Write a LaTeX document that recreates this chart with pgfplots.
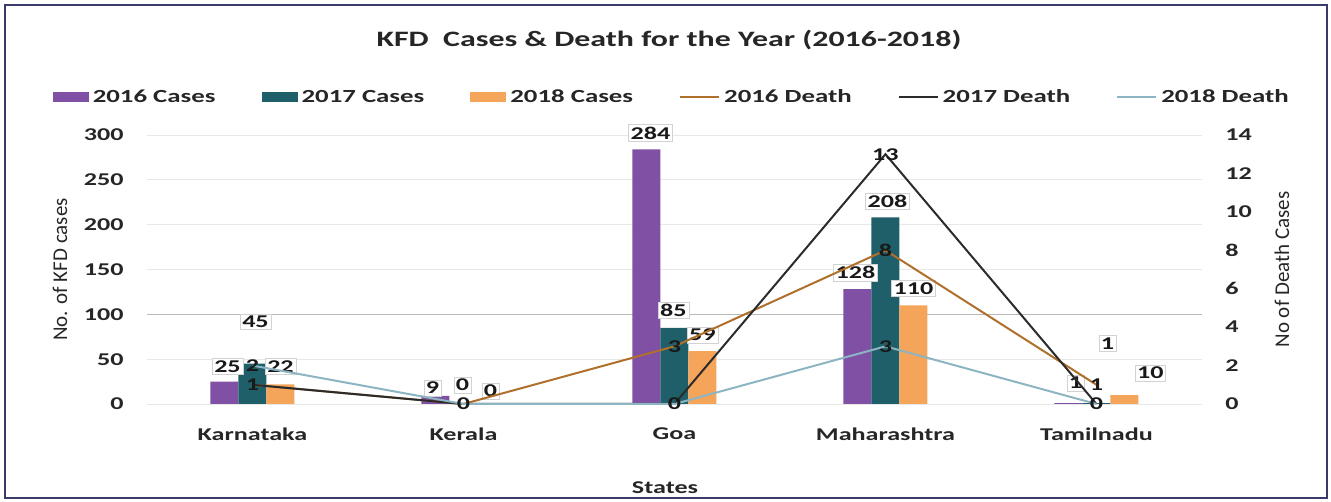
\documentclass[border=0pt]{standalone}
\usepackage{fontspec}
\setmainfont{Carlito}[FakeStretch=1.45]
\newfontfamily\plainfont{Carlito}
\usepackage{pgfplots}
\usepackage{pgfplotstable}
\pgfplotsset{compat=1.18}
\definecolor{c16}{HTML}{8050A5}
\definecolor{c17}{HTML}{1E5F69}
\definecolor{c18}{HTML}{F5A55A}
\definecolor{d16}{HTML}{B0702C}
\definecolor{d17}{HTML}{2B2B2B}
\definecolor{d18}{HTML}{8DB4C2}
\definecolor{framec}{HTML}{3B3B6B}
\pgfplotsset{
  barleg/.style={legend image code/.code={\fill[##1] (0bp,-5bp) rectangle (36bp,5bp);}},
  lineleg/.style={legend image code/.code={\draw[##1] (0bp,0bp) -- (39bp,0bp);}},
  /pgf/number format/assume math mode=true,
}
% cases: x, value, label x-offset, label y-offset (bp)
\pgfplotstableread{
x y dx dy
0 25 3 7
1 9 -3 0
2 284 4 8
3 128 -2 8
4 1 7 12
}\tA
\pgfplotstableread{
x y dx dy
0 45 3 34
1 0 -1 11
2 85 -1 9
3 208 2 8
4 1 11 52
}\tB
\pgfplotstableread{
x y dx dy
0 22 0 10
1 0 -1 5
2 59 0 8
3 110 0 9
4 10 26 14
}\tC
\begin{document}
\begin{tikzpicture}
\path[use as bounding box] (0,0) rectangle (1331bp,502bp);
\draw[framec, line width=1.5bp] (5bp,4bp) rectangle (1327bp,497bp);
\node[font=\bfseries\fontsize{22bp}{26bp}\selectfont, text=black!85] at (669bp,462bp) {KFD\ \ Cases \& Death for the Year (2016-2018)};
\node[font=\bfseries\fontsize{18bp}{20bp}\selectfont, text=black!85] at (665bp,14bp) {States};

\begin{axis}[
  at={(147bp,98bp)}, anchor=south west, scale only axis,
  width=1055bp, height=269bp,
  xmin=-0.5, xmax=4.5, ymin=0, ymax=300,
  xtick={0,...,4}, xticklabels={Karnataka,Kerala,Goa,Maharashtra,Tamilnadu},
  ytick={0,50,...,300},
  axis line style={draw=none}, major tick length=0pt,
  ymajorgrids, grid style={gray!18, line width=0.8bp},
  extra y ticks={100}, extra y tick labels={}, extra y tick style={grid style={gray!55, line width=0.8bp}},
  ticklabel style={font=\bfseries\fontsize{18bp}{20bp}\selectfont, text=black!85},
  yticklabel style={xshift=-20bp},
  xticklabel style={yshift=-20bp},
  ylabel={No. of KFD cases},
  every axis y label/.style={at={([xshift=-87bp]axis description cs:0,0.5)}, rotate=90, anchor=center, font=\plainfont\fontsize{21bp}{24bp}\selectfont, text=black!85},
  ybar=0pt, bar width=28bp,
  clip=false,
  nodes near coords,
  every node near coord/.append style={font=\bfseries\fontsize{18bp}{20bp}\selectfont, text=black!90, fill=white, draw=gray!35, inner sep=2bp, xshift=\dx, yshift=\dy},
  legend style={at={(axis description cs:0.497,1.141)}, anchor=center, draw=none, fill=none,
    legend columns=6, font=\bfseries\fontsize{18.5bp}{21bp}\selectfont, text=black!85,
    nodes={inner sep=1bp},
    /tikz/every odd column/.append style={column sep=3bp},
    /tikz/every even column/.append style={column sep=45bp}},
  legend cell align=left,
]
\addplot[fill=c16, draw=none, barleg,
  visualization depends on={\thisrow{dx} \as \dx},
  visualization depends on={\thisrow{dy} \as \dy}] table[x=x,y=y] {\tA};
\addplot[fill=c17, draw=none, barleg,
  visualization depends on={\thisrow{dx} \as \dx},
  visualization depends on={\thisrow{dy} \as \dy}] table[x=x,y=y] {\tB};
\addplot[fill=c18, draw=none, barleg,
  visualization depends on={\thisrow{dx} \as \dx},
  visualization depends on={\thisrow{dy} \as \dy}] table[x=x,y=y] {\tC};
\addlegendentry{2016 Cases}
\addlegendentry{2017 Cases}
\addlegendentry{2018 Cases}
\addlegendimage{d16, line width=2bp, lineleg}
\addlegendentry{2016 Death}
\addlegendimage{d17, line width=2bp, lineleg}
\addlegendentry{2017 Death}
\addlegendimage{d18, line width=2bp, lineleg}
\addlegendentry{2018 Death}
\end{axis}

\begin{axis}[
  at={(147bp,98bp)}, anchor=south west, scale only axis,
  width=1055bp, height=269bp,
  xmin=-0.5, xmax=4.5, ymin=0, ymax=14,
  axis x line=none, axis y line*=right, axis line style={draw=none}, major tick length=0pt,
  ytick={0,2,...,14},
  ticklabel style={font=\bfseries\fontsize{18bp}{20bp}\selectfont, text=black!85},
  yticklabel style={xshift=20bp},
  ylabel={No of Death Cases},
  every axis y label/.style={at={([xshift=80bp]axis description cs:1,0.5)}, rotate=90, anchor=center, font=\plainfont\fontsize{21bp}{24bp}\selectfont, text=black!85},
  clip=false,
  point meta=explicit symbolic,
  nodes near coords,
  every node near coord/.append style={anchor=center, font=\bfseries\fontsize{18bp}{20bp}\selectfont, text=black!90},
]
\addplot[d16, line width=2bp, mark=none] coordinates {(0,1) [1] (1,0) [0] (2,3) [3] (3,8) [8] (4,1) [1]};
\addplot[d17, line width=2bp, mark=none] coordinates {(0,1) [{}] (1,0) [{}] (2,0) [0] (3,13) [13] (4,0) [0]};
\addplot[d18, line width=2bp, mark=none] coordinates {(0,2) [2] (1,0) [{}] (2,0) [{}] (3,3) [3] (4,0) [{}]};
\end{axis}
\end{tikzpicture}
\end{document}
